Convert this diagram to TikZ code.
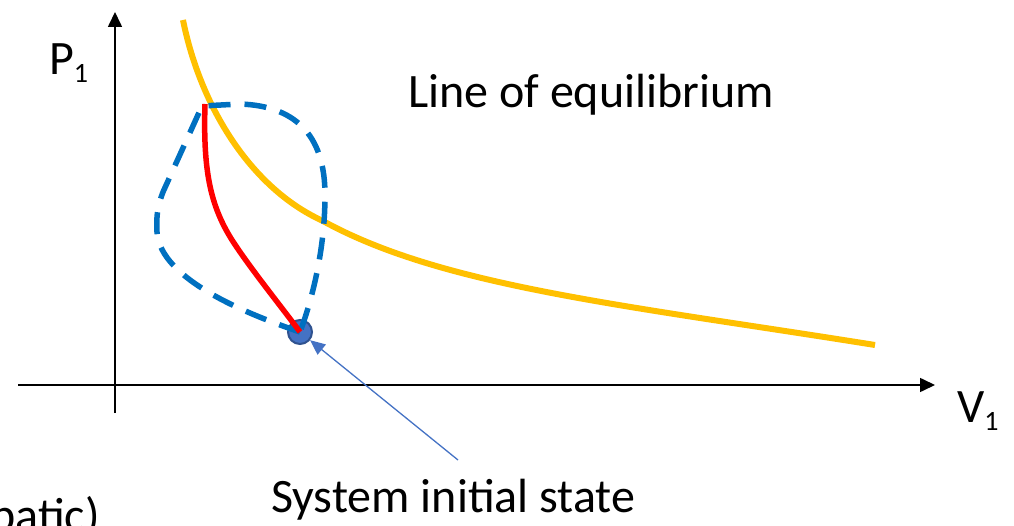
\documentclass[tikz,border=0pt]{standalone}
\usepackage{fontspec}
\setmainfont{Carlito}
\usetikzlibrary{arrows.meta}
\definecolor{eqline}{RGB}{255,192,0}
\definecolor{pathred}{RGB}{255,0,0}
\definecolor{loopblue}{RGB}{0,112,192}
\definecolor{statefill}{RGB}{68,114,196}
\definecolor{stateedge}{RGB}{47,82,143}
\newcommand{\lowidx}[1]{\raisebox{-8pt}{\fontsize{28}{30}\selectfont #1}}

\begin{document}
\begin{tikzpicture}[x=1pt,y=-1pt,
      axis/.style={line width=1.6pt,-{Triangle[length=15pt,width=14pt]}},
      lbl/.style={font=\fontsize{48}{56}\selectfont,inner sep=0pt,anchor=base west},
      eq/.style={line width=6pt,eqline},
      proc/.style={line width=5.5pt,pathred},
      excur/.style={line width=5.5pt,loopblue,dash pattern=on 22pt off 14pt},
      state/.style={circle,draw=stateedge,fill=statefill,line width=2pt,minimum size=24pt,inner sep=0pt},
      pointer/.style={line width=1.3pt,statefill,-{Triangle[length=15pt,width=13pt]}}]
    \useasboundingbox (0,0) rectangle (1014,526);
    \clip (0,0) rectangle (1014,526);
    % axes
    \coordinate (o1) at (115,413);
    \coordinate (ytop) at (115,12);
    \coordinate (o2) at (18,385);
    \coordinate (xend) at (935,385);
    \draw[axis] (o1)--(ytop);
    \draw[axis] (o2)--(xend);
    \node[lbl] (P) at (49,75) {P\lowidx{1}};
    \node[lbl] (V) at (957,422) {V\lowidx{1}};
    % initial state
    \node[state] (init) at (300,332) {};
    % equilibrium line
    \coordinate (eqtop) at (183,20);
    \coordinate (eqmid) at (323,221);
    \coordinate (eqend) at (875,345);
    \draw[eq] (eqtop) .. controls (200,105) and (250,188) .. (eqmid)
      .. controls (443,287) and (625,305) .. (eqend);
    % excursion
    \draw[excur] (init.center) .. controls (250,315) and (160,280) .. (157,232)
      .. controls (156,215) and (158,205) .. (163,192) -- (202,106) -- (240,104)
      .. controls (300,106) and (325,140) .. (325,195)
      .. controls (325,250) and (312,300) .. (init.center);
    % actual path
    \draw[proc] (205,104) .. controls (203,170) and (210,205) .. (232,240)
      .. controls (250,268) and (280,305) .. (init.center);
    \node[lbl] (eqlbl) at (408,108) {Line of equilibrium};
    \node[lbl] (initlbl) at (271,512) {System initial state};
    \coordinate (tail) at (458,460);
    \draw[pointer] (tail)--(init);
    \node[lbl,anchor=base east] (adia) at (100,531) {batic)};
  \end{tikzpicture}
\end{document}
